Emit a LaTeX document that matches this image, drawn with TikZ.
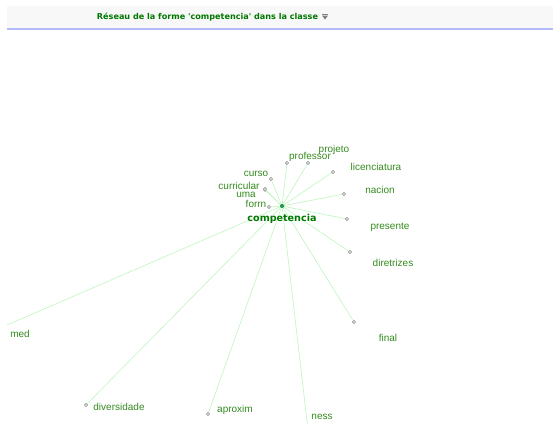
\documentclass[tikz,border=0pt]{standalone}
\usepackage{fontspec}
\setmainfont{Liberation Sans}
\newfontfamily\titlefont{DejaVu Sans}
\definecolor{labelgreen}{RGB}{52,138,30}
\definecolor{titlegreen}{RGB}{0,120,0}
\definecolor{edgegreen}{RGB}{190,245,190}
\definecolor{headbg}{RGB}{248,248,248}
\definecolor{headline}{RGB}{178,186,250}
\definecolor{dotgray}{RGB}{150,150,150}
\definecolor{hubgreen}{RGB}{40,150,80}
\begin{document}
\begin{tikzpicture}[x=1pt,y=-1pt,
  word/.style={text=labelgreen,font=\fontsize{10}{11}\selectfont,inner sep=0pt,anchor=center,yshift=-1.5pt},
  leaf/.style={circle,draw=dotgray,fill=white,line width=0.6pt,minimum size=3pt,inner sep=0pt},
  hub/.style={circle,fill=hubgreen,minimum size=4pt,inner sep=0pt},
  edge/.style={draw=edgegreen,line width=0.6pt}]
\useasboundingbox (0,0) rectangle (553,423);
\clip (0,0) rectangle (553,423);
% header band
\fill[headbg] (7,6) rectangle (553,28);
\fill[headline] (7,27.5) rectangle (553,30);
\node[text=titlegreen,font=\titlefont\bfseries\fontsize{8.1}{9}\selectfont,inner sep=0pt] (title) at (207.5,17) {Réseau de la forme 'competencia' dans la classe};
% drop-down marker
\fill[gray] (322,13.6) rectangle (328,14.4);
\fill[gray] (322,15.6) -- (328,15.6) -- (325,19.5) -- cycle;
% leaves
\node[leaf] (projeto) at (308,163) {};
\node[leaf] (professor) at (287,163) {};
\node[leaf] (licenciatura) at (333,172) {};
\node[leaf] (nacion) at (344,194) {};
\node[leaf] (presente) at (347,219) {};
\node[leaf] (diretrizes) at (350,252) {};
\node[leaf] (final) at (354,322) {};
\node[leaf] (aproxim) at (208,414) {};
\node[leaf] (diversidade) at (86,405) {};
\node[leaf] (curso) at (271,179) {};
\node[leaf] (curricular) at (265,189) {};
\node[leaf] (uma) at (265,190) {};
\node[leaf] (forrn) at (269,207) {};
\coordinate (med) at (7,325);
\coordinate (ness) at (308,430);
\node[hub] (hub) at (282,206) {};
% connectors
\foreach \n in {projeto,professor,licenciatura,nacion,presente,diretrizes,final,aproxim,diversidade,curso,curricular,uma,forrn}
  \path[edge] (hub) -- (\n);
\path[edge] (hub.center) -- (med);
\path[edge] (hub.center) -- (ness);
% redraw markers on top of the lines
\foreach \n/\p in {projeto/{308,163},professor/{287,163},licenciatura/{333,172},nacion/{344,194},presente/{347,219},diretrizes/{350,252},final/{354,322},aproxim/{208,414},diversidade/{86,405},curso/{271,179},curricular/{265,189},forrn/{269,207}}
  \node[leaf] at (\p) {};
\node[hub] at (282,206) {};
% labels
\node[word] (lprojeto) at (334,148) {projeto};
\node[word] (lprofessor) at (310,155) {professor};
\node[word] (llicenciatura) at (376,165) {licenciatura};
\node[word] (lnacion) at (380,188) {nacion};
\node[word] (lpresente) at (390,226) {presente};
\node[word] (ldiretrizes) at (393,261) {diretrizes};
\node[word] (lfinal) at (388,336) {final};
\node[word] (lness) at (322,415) {ness};
\node[word] (laproxim) at (235,408) {aproxim};
\node[word] (ldiversidade) at (119,405) {diversidade};
\node[word] (lmed) at (20,332) {med};
\node[word] (lcurso) at (256,172) {curso};
\node[word] (lcurricular) at (239,184) {curricular};
\node[word] (luma) at (246,193) {uma};
\node[word] (lforrn) at (256,202) {forrn};
\node[text=titlegreen,font=\titlefont\bfseries\fontsize{9.6}{11}\selectfont,inner sep=0pt,yshift=-1.5pt] (lhub) at (282,217) {competencia};
\end{tikzpicture}
\end{document}
